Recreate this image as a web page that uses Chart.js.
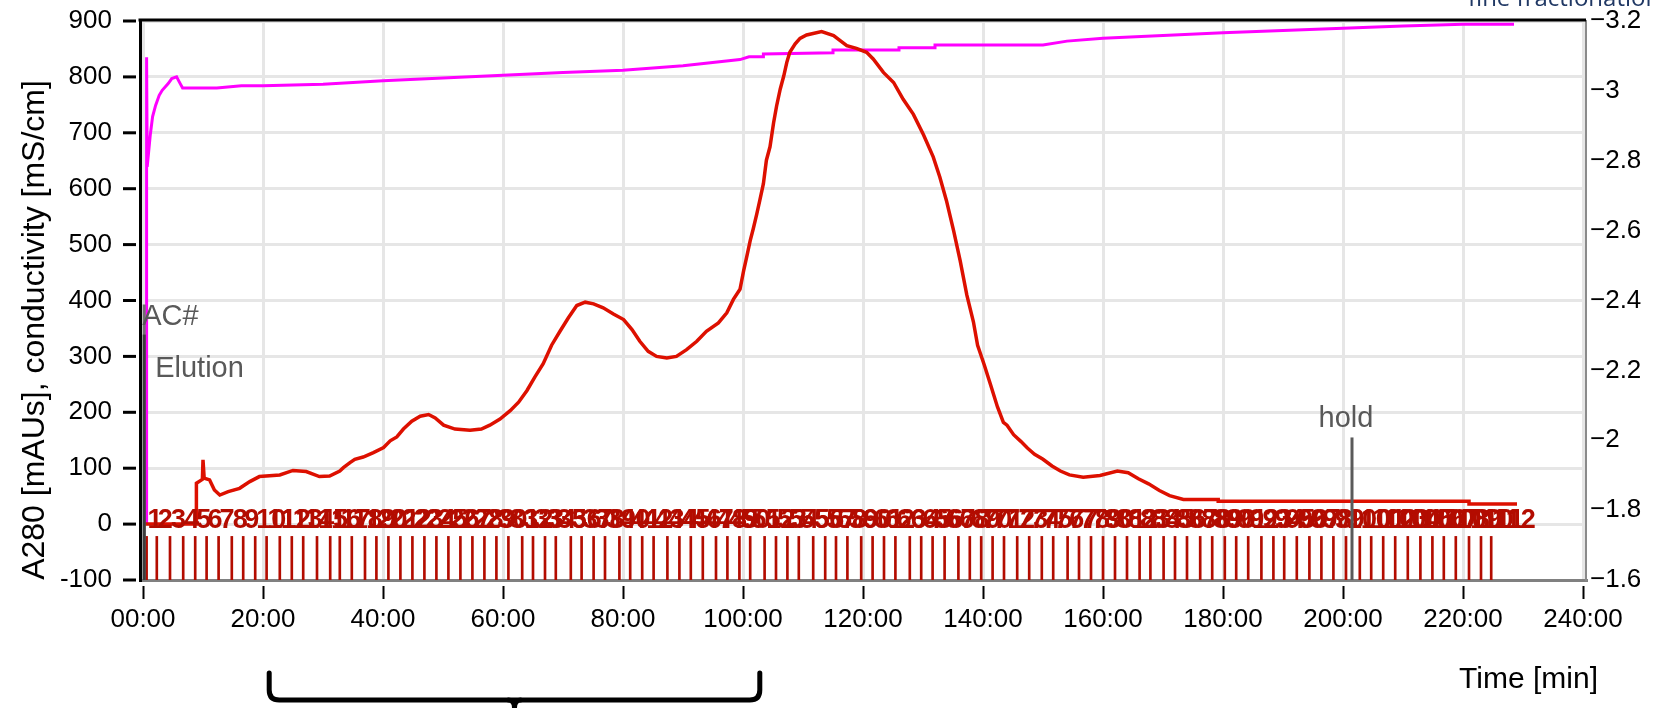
<!doctype html>
<html lang="en">

<head>
    <meta charset="utf-8">
    <title>Elution - fine fractionation</title>
    <script src="https://cdn.jsdelivr.net/npm/chart.js@4"></script>
    <style>
        html, body { margin: 0; padding: 0; background: #fff; }
        #wrap { width: 1655px; height: 708px; }
    </style>
</head>

<body>
    <div id="wrap"><canvas id="run" width="1655" height="708"></canvas></div>
    <script>
        // A280 trace (time in min, mAU)
        const uvTime = [0, 8.9, 8.9, 9.9, 10.0, 10.2, 11.1, 11.9, 12.8, 14.2, 16.1, 17.8, 19.4, 22.8, 25.0, 27.2, 29.4, 31.1,
            32.8, 33.4, 34.5, 35.3, 36.7, 38.4, 40.1, 41.2, 42.3, 43.4, 44.8, 46.2, 47.6, 48.7, 50.1, 52.0, 54.5, 56.4,
            57.8, 59.5, 61.2, 62.6, 64.0, 65.3, 66.7, 68.1, 69.5, 70.9, 72.3, 73.7, 75.1, 76.7, 78.4, 80.1, 81.5, 82.8,
            84.2, 85.6, 87.3, 88.9, 90.6, 92.3, 93.9, 95.9, 97.3, 98.4, 99.5, 100.1, 100.6, 101.2, 101.7, 102.3, 102.8,
            103.4, 103.9, 104.5, 105.1, 105.6, 106.2, 106.8, 107.3, 107.8, 108.7, 109.5, 110.6, 113.1, 115.1, 116.2,
            117.3, 118.9, 120.6, 121.7, 123.4, 125.1, 126.7, 128.4, 130.1, 131.7, 132.8, 133.9, 135.1, 136.2, 137.3,
            138.4, 139.1, 140.2, 141.3, 142.4, 143.4, 144.0, 145.1, 146.3, 147.4, 148.6, 150.0, 151.5, 152.9, 154.4,
            156.7, 159.5, 162.4, 164.2, 165.9, 167.6, 169.4, 171.1, 173.4, 179.2, 179.2, 221.0, 221.0, 229.0];
        const uvValue = [0, 0, 73, 80, 115, 82, 79, 61, 52, 58, 64, 76, 85, 88, 96, 94, 85, 86,
            95, 101, 110, 116, 120, 128, 137, 149, 156, 170, 184, 193, 196, 190, 177, 170, 168, 170,
            177, 188, 203, 218, 239, 263, 287, 320, 345, 369, 391, 397, 394, 387, 376, 366, 348, 327,
            309, 300, 297, 300, 312, 327, 345, 360, 378, 402, 420, 453, 477, 507, 528, 555, 579,
            609, 651, 675, 718, 748, 778, 802, 826, 844, 859, 869, 875, 881, 874, 865,
            856, 851, 844, 832, 808, 790, 760, 733, 696, 657, 621, 579, 525, 471, 410,
            362, 320, 285, 248, 210, 182, 177, 160, 148, 136, 125, 116, 104, 95, 88,
            84, 87, 95, 92, 81, 72, 60, 51, 44, 44, 41, 41, 36, 36];

        // conductivity trace (time in min, mS/cm)
        const condTime = [0.6, 0.6, 0.7, 1.2, 1.6, 2.1, 2.7, 3.2, 4.2, 4.8, 5.6, 6.2, 6.6, 12.3, 16.4, 20, 30, 40, 50, 60,
            70, 80, 90, 99.5, 101, 103.4, 103.4, 115, 115, 126, 126, 132, 132, 150, 154, 160, 170, 180, 190, 200, 210,
            220, 228.5];
        const condValue = [0, 835, 639, 695, 729, 749, 767, 776, 788, 797, 800, 788, 780, 780, 784, 784, 787, 793, 798, 803,
            808, 812, 820, 831, 836, 836, 841, 843, 848, 848, 852, 852, 857, 857, 864, 869, 874, 879, 883, 887, 891,
            894, 894];

        // fraction start times (min)
        const fracTimes = [0.6, 2.3, 4.5, 6.7, 8.7, 10.6, 12.6, 14.8, 16.7, 18.7, 20.6, 22.8, 24.8, 26.7, 29.0, 31.2,
            32.8, 34.8, 37.0, 38.9, 40.9, 42.9, 44.9, 46.9, 48.9, 50.9, 52.9, 54.9, 56.9, 58.9, 60.9, 63.2, 65.0, 67.0,
            68.8, 71.3, 73.1, 75.1, 77.0, 79.4, 81.2, 83.2, 85.1, 87.4, 89.4, 91.3, 93.3, 95.5, 97.4, 99.4, 101.2,
            103.6, 105.5, 107.4, 109.3, 111.7, 113.7, 115.5, 117.4, 119.7, 121.6, 123.5, 125.4, 127.8, 129.7, 131.6,
            133.6, 135.9, 137.8, 139.7, 141.6, 143.5, 145.7, 147.7, 149.8, 151.7, 154.1, 156.0, 158.0, 160.0, 162.0,
            164.0, 166.1, 167.9, 170.1, 172.0, 174.0, 176.2, 178.2, 180.3, 182.2, 184.2, 186.4, 188.4, 190.2, 192.3,
            194.4, 196.4, 198.4, 200.5, 202.8, 204.7, 206.7, 208.7, 210.8, 212.9, 214.9, 216.8, 218.8, 221.0, 223.0,
            224.7];
        const fracNames = fracTimes.map((t, i) => String(i + 1));
        const fracSpan = [-100, -22];

        // run log events
        const eventTimes = [0.2, 0.2, 201.5];
        const eventLevels = [393, 339, 155];
        const eventNames = ['AC#', 'Elution', 'hold'];

        // axis ticks and the bracketed time window
        const xTicks = [0, 20, 40, 60, 80, 100, 120, 140, 160, 180, 200, 220, 240];
        const bracketRange = [20.7, 102.8];

        const red = '#dd1000';
        const darkRed = '#b30c00';
        const grid = '#e6e6e6';
        const sans = '"Liberation Sans", Arial, sans-serif';

        const eventStyle = [
            { line: '#707070', dx: -2, dy: 21, align: 'left' },
            { line: '#3c3c3c', dx: 11, dy: 42, align: 'left' },
            { line: '#5a5a5a', dx: -6, dy: -10, align: 'center' }
        ];

        function zip(xs, ys) {
            return xs.map((v, i) => ({ x: v, y: ys[i] }));
        }

        // keep the plot frame fixed: no extra room for the end labels
        function noEndPadding(s) {
            s.paddingTop = 0;
            s.paddingBottom = 0;
        }

        const decor = {
            id: 'decor',
            afterDatasetsDraw(chart) {
                const { ctx, chartArea: a, scales: { x, y } } = chart;

                // fraction numbers, overprinted along the bottom
                ctx.save();
                ctx.beginPath();
                ctx.rect(a.left, a.top, a.right - a.left, a.bottom - a.top);
                ctx.clip();
                ctx.fillStyle = darkRed;
                ctx.font = 'bold 27px ' + sans;
                ctx.textBaseline = 'alphabetic';
                ctx.textAlign = 'left';
                fracTimes.forEach((t, i) => {
                    ctx.fillText(fracNames[i], x.getPixelForValue(t) + 1, y.getPixelForValue(-7));
                });

                // event markers
                ctx.font = '29px ' + sans;
                eventTimes.forEach((t, i) => {
                    const st = eventStyle[i];
                    const px = x.getPixelForValue(t);
                    const top = y.getPixelForValue(eventLevels[i]);
                    ctx.strokeStyle = st.line;
                    ctx.lineWidth = 3;
                    ctx.beginPath();
                    ctx.moveTo(px, top);
                    ctx.lineTo(px, a.bottom);
                    ctx.stroke();
                    ctx.fillStyle = '#595959';
                    ctx.textAlign = st.align;
                    ctx.fillText(eventNames[i], px + st.dx, top + st.dy);
                });
                ctx.restore();
            },
            afterDraw(chart) {
                const { ctx, chartArea: a, scales: { x, y } } = chart;
                ctx.save();

                // top frame
                ctx.strokeStyle = '#000';
                ctx.lineWidth = 3;
                ctx.beginPath();
                ctx.moveTo(a.left - 1.5, a.top - 1);
                ctx.lineTo(a.right, a.top - 1);
                ctx.stroke();

                // tick marks, set off from the axes
                y.ticks.forEach(tk => {
                    const py = y.getPixelForValue(tk.value);
                    ctx.beginPath();
                    ctx.moveTo(a.left - 17, py);
                    ctx.lineTo(a.left - 4, py);
                    ctx.stroke();
                });
                ctx.lineWidth = 2;
                x.ticks.forEach(tk => {
                    const px = Math.round(x.getPixelForValue(tk.value)) + 0.5;
                    ctx.beginPath();
                    ctx.moveTo(px, a.bottom + 6);
                    ctx.lineTo(px, a.bottom + 19);
                    ctx.stroke();
                });

                // axis titles
                ctx.fillStyle = '#000';
                ctx.font = '30px ' + sans;
                ctx.textAlign = 'right';
                ctx.textBaseline = 'alphabetic';
                ctx.fillText('Time [min]', a.right + 12, 688);

                ctx.save();
                ctx.translate(35, 330);
                ctx.rotate(-Math.PI / 2);
                ctx.font = '32px ' + sans;
                ctx.textAlign = 'center';
                ctx.textBaseline = 'middle';
                ctx.fillText('A280 [mAUs], conductivity [mS/cm]', 0, 0);
                ctx.restore();

                // bracket under the pooled window
                const xl = x.getPixelForValue(bracketRange[0]) + 2;
                const xr = x.getPixelForValue(bracketRange[1]);
                const xm = (xl + xr) / 2;
                const top = 673, bot = 700, r = 10;
                ctx.strokeStyle = '#000';
                ctx.lineWidth = 5;
                ctx.lineCap = 'round';
                ctx.lineJoin = 'round';
                ctx.beginPath();
                ctx.moveTo(xl, top);
                ctx.lineTo(xl, bot - r);
                ctx.quadraticCurveTo(xl, bot, xl + r, bot);
                ctx.lineTo(xr - r, bot);
                ctx.quadraticCurveTo(xr, bot, xr, bot - r);
                ctx.lineTo(xr, top);
                ctx.stroke();
                ctx.beginPath();
                ctx.moveTo(xm - 6, bot);
                ctx.quadraticCurveTo(xm, bot, xm, bot + 8);
                ctx.quadraticCurveTo(xm, bot, xm + 6, bot);
                ctx.stroke();

                // slide heading, cut by the top edge
                ctx.fillStyle = '#203864';
                ctx.font = '24px "Open Sans", "Noto Sans", sans-serif';
                ctx.textAlign = 'left';
                ctx.fillText('fine fractionation', 1468, 6);

                ctx.restore();
            }
        };

        const ctx = document.getElementById('run');

        new Chart(ctx, {
            type: 'line',
            data: {
                datasets: [{
                    label: 'A280',
                    data: zip(uvTime, uvValue),
                    borderColor: red,
                    borderWidth: 3.5,
                    pointRadius: 0,
                    tension: 0,
                    yAxisID: 'y'
                }, {
                    label: 'Conductivity',
                    data: zip(condTime, condValue),
                    borderColor: '#ff00ff',
                    borderWidth: 3,
                    pointRadius: 0,
                    tension: 0,
                    yAxisID: 'y'
                }, {
                    type: 'bar',
                    label: 'Fractions',
                    data: fracTimes.map(t => ({ x: t, y: fracSpan })),
                    backgroundColor: darkRed,
                    barThickness: 2,
                    yAxisID: 'y'
                }]
            },
            options: {
                responsive: false,
                animation: false,
                devicePixelRatio: 1,
                layout: { autoPadding: false, padding: { top: 21, left: 0, right: 0, bottom: 0 } },
                plugins: {
                    legend: { display: false },
                    tooltip: { enabled: false }
                },
                scales: {
                    x: {
                        type: 'linear',
                        min: -0.5,
                        max: 240.5,
                        offset: false,
                        afterBuildTicks: s => {
                            s.ticks = xTicks.map(v => ({ value: v }));
                        },
                        afterFit: s => { s.height = 128; },
                        ticks: {
                            autoSkip: false,
                            maxRotation: 0,
                            padding: 24,
                            color: '#000',
                            font: { family: sans, size: 26 },
                            callback: v => String(v).padStart(2, '0') + ':00'
                        },
                        grid: { color: grid, lineWidth: 3, drawTicks: false, offset: false },
                        border: { color: '#808080', width: 3 }
                    },
                    y: {
                        position: 'left',
                        min: -100,
                        max: 900,
                        afterFit: s => { s.width = 140; noEndPadding(s); },
                        ticks: {
                            stepSize: 100,
                            padding: 28,
                            color: '#000',
                            font: { family: sans, size: 26 }
                        },
                        grid: { color: grid, lineWidth: 3, drawTicks: false },
                        border: { color: '#000', width: 3 }
                    },
                    y2: {
                        position: 'right',
                        display: true,
                        min: -3.2,
                        max: -1.6,
                        reverse: true,
                        afterFit: s => { s.width = 69; noEndPadding(s); },
                        ticks: {
                            stepSize: 0.2,
                            padding: 4,
                            color: '#000',
                            font: { family: sans, size: 26 },
                            callback: v => String(Math.round(v * 10) / 10).replace('-', '\u2212')
                        },
                        grid: { drawOnChartArea: false, drawTicks: false },
                        border: { color: '#8a8a8a', width: 2 }
                    }
                }
            },
            plugins: [decor]
        });
    </script>
</body>

</html>
